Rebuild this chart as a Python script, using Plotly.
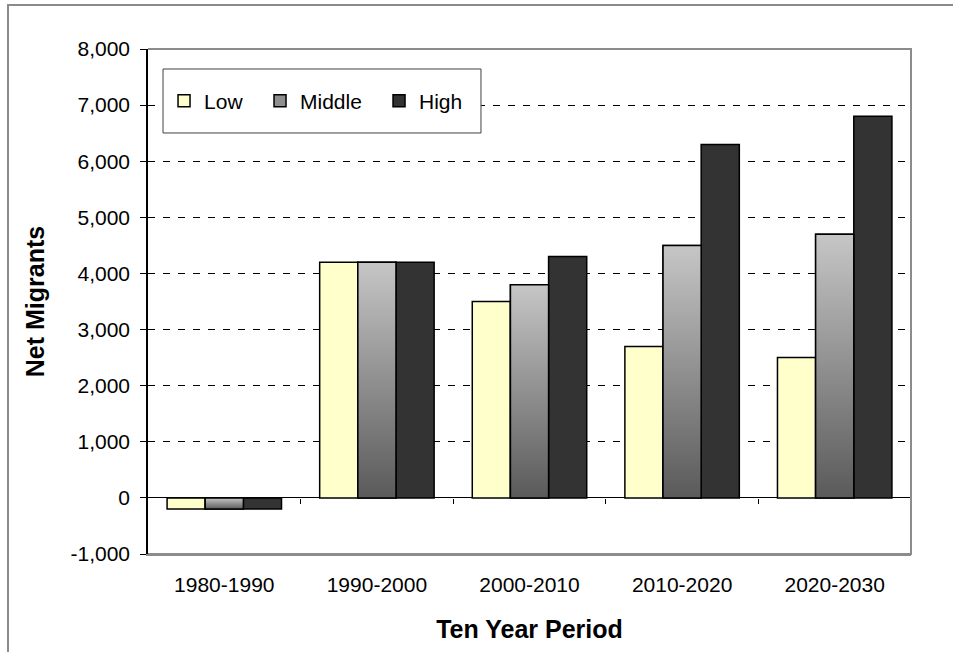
import plotly.graph_objects as go

CATEGORIES = ["1980-1990", "1990-2000", "2000-2010", "2010-2020", "2020-2030"]
LOW = [-200, 4200, 3500, 2700, 2500]
MIDDLE = [-200, 4200, 3800, 4500, 4700]
HIGH = [-200, 4200, 4300, 6300, 6800]
Y_TICKS = [-1000, 0, 1000, 2000, 3000, 4000, 5000, 6000, 7000, 8000]
Y_TICK_LABELS = ["-1,000", "0", "1,000", "2,000", "3,000", "4,000", "5,000", "6,000", "7,000", "8,000"]

Y_MIN, Y_MAX = -1000, 8000
BAR_W = 0.25
FONT = "Liberation Sans, Arial, sans-serif"
idx = list(range(len(CATEGORIES)))

fig = go.Figure()
line = dict(color="black", width=1.5)
fig.add_trace(go.Bar(name="Low", x=idx, y=LOW, offset=-1.5 * BAR_W, width=BAR_W,
                     legendwidth=51, marker=dict(color="#FFFFCC", line=line)))
fig.add_trace(go.Bar(name="Middle", x=idx, y=MIDDLE, offset=-0.5 * BAR_W, width=BAR_W,
                     legendwidth=74, marker=dict(color="#8f8f8f", line=line)))
fig.add_trace(go.Bar(name="High", x=idx, y=HIGH, offset=0.5 * BAR_W, width=BAR_W,
                     legendwidth=45, marker=dict(color="#333333", line=line)))

# gradient fill for the Middle bars
for i, v in zip(idx, MIDDLE):
    x0, x1 = i - 0.5 * BAR_W, i + 0.5 * BAR_W
    fig.add_trace(go.Scatter(
        x=[x0, x1, x1, x0, x0], y=[0, 0, v, v, 0], mode="lines", fill="toself",
        fillgradient=dict(type="vertical", colorscale=[[0, "#5a5a5a"], [1, "#c6c6c6"]]),
        line=line, showlegend=False, hoverinfo="skip"))

# ticks on the zero line between categories
fig.add_trace(go.Scatter(x=[None], y=[None], xaxis="x2", showlegend=False, hoverinfo="skip"))

fig.update_layout(
    width=953, height=652,
    margin=dict(l=148, r=42, t=49, b=98),
    paper_bgcolor="white", plot_bgcolor="white",
    barmode="overlay",
    font=dict(family=FONT, size=21, color="black"),
    showlegend=True,
    legend=dict(orientation="h", x=0.021, xanchor="left", y=0.897, yanchor="middle",
                bgcolor="rgba(0,0,0,0)", borderwidth=0, font=dict(size=21),
                traceorder="normal"),
    xaxis=dict(range=[-0.5, len(CATEGORIES) - 0.5], tickmode="array", tickvals=idx,
               ticktext=CATEGORIES, ticks="", showgrid=False, zeroline=False,
               showline=True, linecolor="#8c8c8c", linewidth=2, ticklabelstandoff=11,
               automargin=False,
               title=dict(text="<b>Ten Year Period</b>", standoff=25)),
    xaxis2=dict(overlaying="x", anchor="free", side="bottom",
                position=(0 - Y_MIN) / (Y_MAX - Y_MIN), automargin=False,
                range=[-0.5, len(CATEGORIES) - 0.5], tickmode="array",
                tickvals=[i + 0.5 for i in idx[:-1]], ticks="outside", ticklen=5,
                tickcolor="black", tickwidth=1, showticklabels=False, showgrid=False,
                zeroline=False, showline=False),
    yaxis=dict(range=[Y_MIN, Y_MAX], tickmode="array", tickvals=Y_TICKS, ticktext=Y_TICK_LABELS,
               ticks="outside", ticklen=6, tickcolor="black", tickwidth=1,
               showline=True, linecolor="black", linewidth=1.5,
               showgrid=True, gridcolor="black", gridwidth=1, griddash="7px,8px",
               zeroline=True, zerolinecolor="black", zerolinewidth=1,
               ticklabelstandoff=6, automargin=False,
               title=dict(text="<b>Net Migrants</b>", standoff=19)),
    shapes=[
        # outer chart frame (left and top edges; the rest lies outside the picture)
        dict(type="path", xref="paper", yref="paper",
             path="M-0.1835,-0.3 L-0.1835,1.0871 L1.2,1.0871",
             line=dict(color="#8a8a8a", width=2), layer="below"),
        # plot border (top, right, bottom)
        dict(type="path", xref="paper", yref="paper", path="M0,1 L1,1 L1,0 L0,0",
             line=dict(color="#8c8c8c", width=2), layer="above"),
        # legend box
        dict(type="rect", xref="paper", yref="paper", x0=0.0197, x1=0.4364, y0=0.8337, y1=0.9604,
             line=dict(color="#404040", width=1), fillcolor="white", layer="above"),
    ],
)

fig.write_html("out.html", config={"displayModeBar": False},
               post_script="document.body.style.margin = '0px';")
